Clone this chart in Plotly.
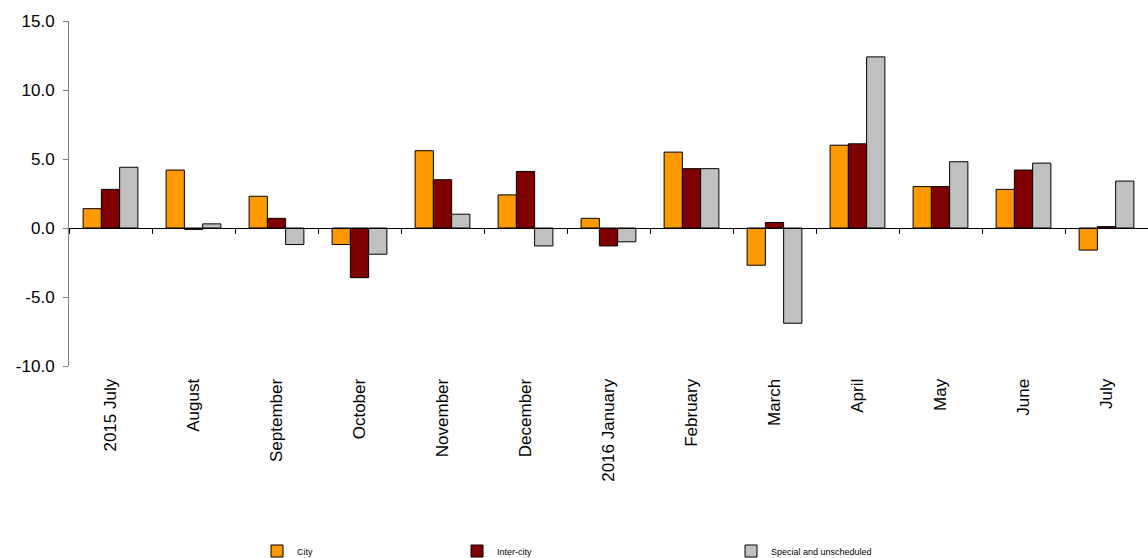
import plotly.graph_objects as go

months = ["2015 July", "August", "September", "October", "November", "December",
          "2016 January", "February", "March", "April", "May", "June", "July"]
city = [1.4, 4.2, 2.3, -1.2, 5.6, 2.4, 0.7, 5.5, -2.7, 6.0, 3.0, 2.8, -1.6]
inter_city = [2.8, -0.1, 0.7, -3.6, 3.5, 4.1, -1.3, 4.3, 0.4, 6.1, 3.0, 4.2, 0.1]
special = [4.4, 0.3, -1.2, -1.9, 1.0, -1.3, -1.0, 4.3, -6.9, 12.4, 4.8, 4.7, 3.4]
y_ticks = [-10, -5, 0, 5, 10, 15]
y_tick_text = ["-10.0", "-5.0", "0.0", "5.0", "10.0", "15.0"]

series = [
    ("City", city, "#FF9900", "legend"),
    ("Inter-city", inter_city, "#800000", "legend2"),
    ("Special and unscheduled", special, "#C0C0C0", "legend3"),
]

fig = go.Figure()
for name, vals, color, lg in series:
    fig.add_trace(go.Bar(
        x=months, y=vals, name=name, legend=lg, showlegend=True,
        marker=dict(color=color, line=dict(color="#000000", width=1)),
    ))

W, H = 1148, 558
ml, mr, mt, mb = 69, 0, 21, 192

def cx(px):
    return px / W

def cy(py):
    return (H - py) / H

legend_font = dict(family="Liberation Sans, Arial, sans-serif", size=9, color="#000000")
common_leg = dict(orientation="h", yanchor="middle", xanchor="left", font=legend_font,
                  bgcolor="rgba(0,0,0,0)", itemwidth=30, xref="container", yref="container",
                  y=cy(551), visible=True)

fig.update_layout(
    width=W, height=H,
    margin=dict(l=ml, r=mr, t=mt, b=mb, autoexpand=False),
    paper_bgcolor="#FFFFFF", plot_bgcolor="#FFFFFF",
    showlegend=True,
    barmode="group", bargap=0.34, bargroupgap=0,
    font=dict(family="Liberation Sans, Arial, sans-serif", color="#000000"),
    legend=dict(x=cx(257), **common_leg),
    legend2=dict(x=cx(457), **common_leg),
    legend3=dict(x=cx(731), **common_leg),
    xaxis=dict(
        type="category", categoryorder="array", categoryarray=months,
        anchor="free", position=10 / 25,
        showline=True, linecolor="#000000", linewidth=1,
        ticks="outside", tickson="boundaries", ticklen=5, tickcolor="#000000",
        tickangle=-90, tickfont=dict(size=17, color="#000000"),
        ticklabelstandoff=143,
        showgrid=False, zeroline=False,
    ),
    yaxis=dict(
        range=[-10, 15], tickvals=y_ticks, ticktext=y_tick_text,
        showline=True, linecolor="#808080", linewidth=1,
        ticks="outside", ticklen=5, tickcolor="#808080",
        tickfont=dict(size=17, color="#000000"),
        ticklabelstandoff=5,
        showgrid=False, zeroline=False,
    ),
)

fig.write_html("out.html", config={"displayModeBar": False},
               post_script="document.body.style.margin='0';document.body.style.overflow='hidden';")
